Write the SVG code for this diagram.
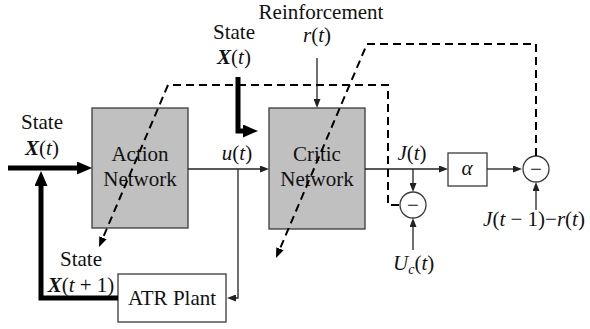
<svg xmlns="http://www.w3.org/2000/svg" width="590" height="329" viewBox="0 0 590 329">
<style>
text{font-family:"Liberation Serif","Times New Roman",serif;font-size:21px;fill:#111;}
.m{text-anchor:middle}
.i{font-style:italic}
.b{font-weight:bold;font-style:italic}
.net{fill:#c0c0c0;stroke:#3a3a3a;stroke-width:1.3}
.wbox{fill:#fff;stroke:#3a3a3a;stroke-width:1.3}
.thin{fill:none;stroke:#222;stroke-width:1.3}
.thick{fill:none;stroke:#000;stroke-width:5;stroke-linejoin:miter}
.dash{fill:none;stroke:#000;stroke-width:2;stroke-dasharray:8 5}
</style>
<defs>
<marker id="ak" viewBox="0 0 15 13" refX="7" refY="6.5" markerWidth="15" markerHeight="13" markerUnits="userSpaceOnUse" orient="auto">
<path d="M0,0 L15,6.5 L0,13 z" fill="#000" stroke="none"/>
</marker>
<marker id="an" viewBox="0 0 9 7" refX="5" refY="3.5" markerWidth="9" markerHeight="7" markerUnits="userSpaceOnUse" orient="auto">
<path d="M0,0 L9,3.5 L0,7 z" fill="#222" stroke="none"/>
</marker>
<marker id="ad" viewBox="0 0 10 8" refX="6" refY="4" markerWidth="10" markerHeight="8" markerUnits="userSpaceOnUse" orient="auto">
<path d="M0,0 L10,4 L0,8 z" fill="#000" stroke="none"/>
</marker>
</defs>

<g id="action">
<rect class="net" x="92" y="108" width="96" height="120"/>
<text class="m" x="140" y="161">Action</text>
<text class="m" x="140" y="186">Network</text>
</g>
<g id="critic">
<rect class="net" x="269" y="108" width="96" height="121"/>
<text class="m" x="317" y="161">Critic</text>
<text class="m" x="317" y="186">Network</text>
</g>
<g id="plant">
<rect class="wbox" x="118" y="274" width="108" height="48"/>
<text class="m" x="172" y="305">ATR Plant</text>
</g>
<g id="alpha">
<rect class="wbox" x="448" y="153" width="39" height="33"/>
<text class="m i" x="467" y="175">α</text>
</g>
<g id="sum1">
<circle class="wbox" cx="413" cy="205" r="13"/>
<text class="m" x="413" y="211.5">−</text>
</g>
<g id="sum2">
<circle class="wbox" cx="536" cy="169" r="13"/>
<text class="m" x="536" y="175.5">−</text>
</g>

<g id="connectors">
<path class="thick" d="M8,168 H84" marker-end="url(#ak)"/>
<path class="thick" d="M118,298 H41 V179" marker-end="url(#ak)"/>
<path class="thick" d="M238,77 V131 H250" marker-end="url(#ak)"/>
<path class="thin" d="M188,169 H265" marker-end="url(#an)"/>
<path class="thin" d="M238,169 V298 H231" marker-end="url(#an)"/>
<path class="thin" d="M317,58 V104" marker-end="url(#an)"/>
<path class="thin" d="M365,169 H444" marker-end="url(#an)"/>
<path class="thin" d="M413,169 V188" marker-end="url(#an)"/>
<path class="thin" d="M487,169 H518" marker-end="url(#an)"/>
<path class="thin" d="M413,250 V222" marker-end="url(#an)"/>
<path class="thin" d="M536,210 V186" marker-end="url(#an)"/>
<path class="dash" d="M399,205 H388 V85 H168 L100.6,243.3" marker-end="url(#ad)"/>
<path class="dash" d="M536,156 V44 H367 L277.6,254.3" marker-end="url(#ad)"/>
</g>

<g id="labels">
<text class="m" x="42" y="129">State</text>
<text class="m" x="42" y="155"><tspan class="b">X</tspan>(<tspan class="i">t</tspan>)</text>
<text class="m" x="234" y="39">State</text>
<text class="m" x="234" y="64"><tspan class="b">X</tspan>(<tspan class="i">t</tspan>)</text>
<text class="m" x="321" y="19">Reinforcement</text>
<text class="m" x="317" y="42"><tspan class="i">r</tspan>(<tspan class="i">t</tspan>)</text>
<text class="m" x="237" y="160"><tspan class="i">u</tspan>(<tspan class="i">t</tspan>)</text>
<text class="m" x="412" y="160"><tspan class="i">J</tspan>(<tspan class="i">t</tspan>)</text>
<text x="393" y="270"><tspan class="i">U</tspan><tspan class="i" font-size="14" dy="4">c</tspan><tspan dy="-4">(</tspan><tspan class="i">t</tspan>)</text>
<text class="m" x="534" y="226"><tspan class="i">J</tspan>(<tspan class="i">t</tspan> − 1)−<tspan class="i">r</tspan>(<tspan class="i">t</tspan>)</text>
<text class="m" x="81" y="266">State</text>
<text class="m" x="81" y="292"><tspan class="b">X</tspan>(<tspan class="i">t</tspan> + 1)</text>
</g>
</svg>
